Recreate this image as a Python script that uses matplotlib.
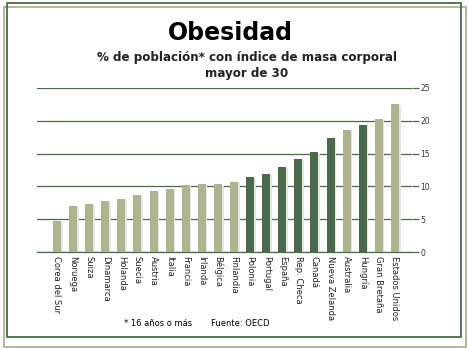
import matplotlib.pyplot as plt
from matplotlib.patches import Rectangle

paises = ['Corea del Sur', 'Noruega', 'Suiza', 'Dinamarca', 'Holanda', 'Suecia',
          'Austria', 'Italia', 'Francia', 'Irlanda', 'Bélgica', 'Finlandia',
          'Polonia', 'Portugal', 'España', 'Rep. Checa', 'Canadá', 'Nueva Zelanda',
          'Australia', 'Hungría', 'Gran Bretaña', 'Estados Unidos']
obesidad = [4.7, 7.0, 7.3, 7.8, 8.1, 8.7, 9.3, 9.6, 10.2, 10.4, 10.4, 10.7,
            11.4, 11.9, 13.0, 14.2, 15.3, 17.4, 18.6, 19.3, 20.3, 22.6]
oscuros = ['Polonia', 'Portugal', 'España', 'Rep. Checa', 'Canadá', 'Nueva Zelanda', 'Hungría']
yticks = [0, 5, 10, 15, 20, 25]

claro = '#adb48e'
oscuro = '#4a6b4a'

fig = plt.figure(figsize=(4.68, 3.5), dpi=100)
fig.patch.set_facecolor('white')

# marco doble
fig.patches.append(Rectangle((4/468, 1 - 347/350), 462/468, 340/350, transform=fig.transFigure,
                             fill=False, edgecolor=claro, lw=1.3))
fig.patches.append(Rectangle((7/468, 1 - 337/350), 454/468, 334/350, transform=fig.transFigure,
                             fill=False, edgecolor=oscuro, lw=1.3))

ax = fig.add_axes([37/468, 1 - 252/350, 375/468, 164/350])
x = list(range(len(paises)))
colores = [oscuro if p in oscuros else claro for p in paises]
# sombra suave
ax.bar([i + 0.1 for i in x], [v - 0.15 for v in obesidad], width=0.5, color='#e6e6e6', zorder=2)
ax.bar(x, obesidad, width=0.5, color=colores, zorder=3)

ax.set_ylim(0, 25)
ax.set_xlim(-1.24, 22.06)
ax.set_yticks(yticks)
ax.yaxis.tick_right()
ax.tick_params(axis='y', length=5, width=0.9, color=oscuro, labelsize=5.5, pad=1, labelcolor='#333333')
ax.grid(axis='y', color=oscuro, lw=0.9, zorder=1)
ax.set_xticks(x)
ax.set_xticklabels(paises, rotation=270, fontsize=6, va='top', ha='center', color='#222222')
ax.tick_params(axis='x', length=0, pad=3)
for s in ['top', 'right', 'left']:
    ax.spines[s].set_visible(False)
ax.spines['bottom'].set_color(oscuro)
ax.spines['bottom'].set_linewidth(0.9)

fig.text(230/468, 1 - 33/350, 'Obesidad', ha='center', va='center', fontsize=17, fontweight='bold')
fig.text(247/468, 1 - 57/350, '% de población* con índice de masa corporal', ha='center', va='center',
         fontsize=8.6, fontweight='bold', color='#222222')
fig.text(247/468, 1 - 74/350, 'mayor de 30', ha='center', va='center',
         fontsize=8.6, fontweight='bold', color='#222222')
fig.text(158/468, 1 - 323/350, '* 16 años o más', ha='center', va='center', fontsize=6)
fig.text(240/468, 1 - 323/350, 'Fuente: OECD', ha='center', va='center', fontsize=6)

fig.savefig('out.png', dpi=100)
